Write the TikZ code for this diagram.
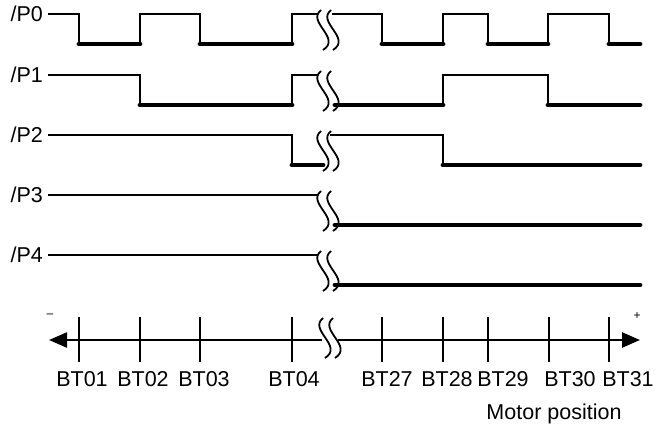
\documentclass[tikz,border=0pt]{standalone}
\usepackage{fontspec}
\setmainfont{Liberation Sans}
\usetikzlibrary{arrows.meta}
\newcommand\brkmark[2]{%
  \begin{scope}[shift={(#1,#2)}]
    \draw[brkline] (0,0) .. controls (-15,12) and (21,28) .. (2,40);
    \draw[brkline] (10,0) .. controls (-5,12) and (31,28) .. (12,40);
  \end{scope}}
\begin{document}
\begin{tikzpicture}[x=1pt,y=-1pt,
  sigthin/.style={line width=1.8pt},
  sigthick/.style={line width=4.8pt, line cap=round},
  brkline/.style={line width=1.8pt},
  tickline/.style={line width=2pt},
  axisline/.style={line width=2.4pt, -{Triangle[length=18pt,width=15pt]}},
  lbl/.style={font=\fontsize{21.5}{25}\selectfont, inner sep=0pt},
  sign/.style={font=\fontsize{12}{14}\selectfont, inner sep=0pt},
]
\useasboundingbox (0,0) rectangle (655,424);

% signal labels
\node[lbl, anchor=base east] (p0) at (43,21) {/P0};
\node[lbl, anchor=base east] (p1) at (43,82) {/P1};
\node[lbl, anchor=base east] (p2) at (43,142) {/P2};
\node[lbl, anchor=base east] (p3) at (43,202) {/P3};
\node[lbl, anchor=base east] (p4) at (43,262) {/P4};

% P0
\draw[sigthin] (48,14) -- (79,14) -- (79,44)
  (140,44) -- (140,14) -- (200,14) -- (200,44)
  (292,44) -- (292,14) -- (318,14)
  (332,14) -- (382,14) -- (382,44)
  (443,44) -- (443,14) -- (488,14) -- (488,44)
  (548,44) -- (548,14) -- (609,14) -- (609,44);
\draw[sigthick] (79,44) -- (140,44) (200,44) -- (292,44)
  (382,44) -- (443,44) (488,44) -- (548,44) (609,44) -- (640,44);
\brkmark{321}{10}

% P1
\draw[sigthin] (48,75) -- (140,75) -- (140,105)
  (292,105) -- (292,75) -- (318,75)
  (443,105) -- (443,75) -- (548,75) -- (548,105);
\draw[sigthick] (140,105) -- (292,105) (335,105) -- (443,105) (548,105) -- (640,105);
\brkmark{321}{71}

% P2
\draw[sigthin] (48,135) -- (292,135) -- (292,165)
  (330,135) -- (443,135) -- (443,165);
\draw[sigthick] (292,165) -- (323,165) (443,165) -- (640,165);
\brkmark{321}{131}

% P3
\draw[sigthin] (48,195) -- (318,195);
\draw[sigthick] (335,225) -- (640,225);
\brkmark{321}{191}

% P4
\draw[sigthin] (48,255) -- (318,255);
\draw[sigthick] (335,285) -- (640,285);
\brkmark{321}{251}

% axis
\draw[axisline] (322,340) -- (49,340);
\draw[axisline] (338,340) -- (640,340);
\brkmark{323}{318}
\foreach \x in {79,140,200,292,382,443,488,549,609}
  \draw[tickline] (\x,317) -- (\x,362);

\node[sign] (minus) at (50,316) {–};
\node[sign] (plus) at (637,316) {+};

\node[lbl, anchor=base] (bt01) at (82,386) {BT01};
\node[lbl, anchor=base] (bt02) at (143,386) {BT02};
\node[lbl, anchor=base] (bt03) at (204,386) {BT03};
\node[lbl, anchor=base] (bt04) at (294,386) {BT04};
\node[lbl, anchor=base] (bt27) at (387,386) {BT27};
\node[lbl, anchor=base] (bt28) at (447,386) {BT28};
\node[lbl, anchor=base] (bt29) at (503,386) {BT29};
\node[lbl, anchor=base] (bt30) at (570,386) {BT30};
\node[lbl, anchor=base] (bt31) at (628,386) {BT31};

\node[lbl, anchor=base] (motor) at (554,419) {Motor position};
\end{tikzpicture}
\end{document}
